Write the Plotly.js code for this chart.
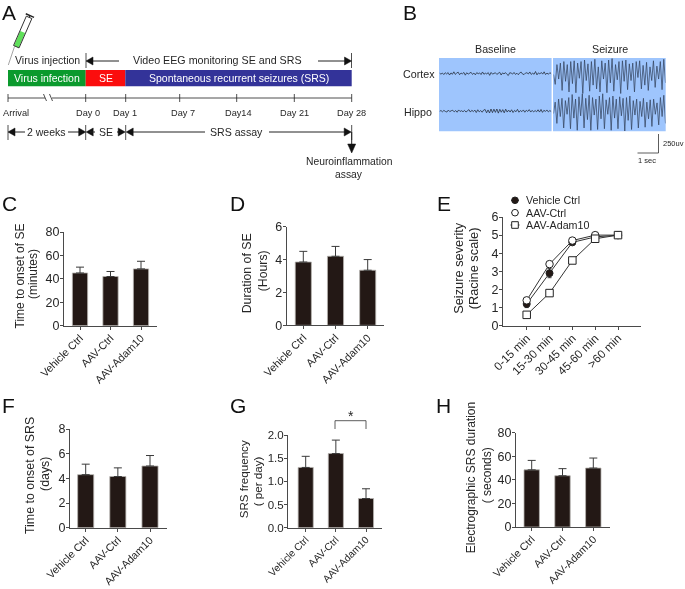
<!DOCTYPE html>
<html><head><meta charset="utf-8">
<script src="https://cdn.plot.ly/plotly-3.0.1.min.js"></script>
<style>html,body{margin:0;padding:0;background:#fff}#c{width:685px;height:589px;filter:blur(0.3px)}</style>
</head><body><div id="c"></div>
<script>
var groups = ['Vehicle Ctrl','AAV-Ctrl','AAV-Adam10'];
var onsetSE = [45,42,48.5],      onsetSEErr = [5,4.3,6.5];
var durationSE = [3.85,4.2,3.35],durationSEErr = [0.65,0.6,0.65];
var onsetSRS = [4.3,4.15,5.0],   onsetSRSErr = [0.85,0.7,0.85];
var freqSRS = [1.3,1.6,0.63],    freqSRSErr = [0.24,0.29,0.21];
var durSRS = [48.5,43.5,50],     durSRSErr = [8,6,8.5];
var timeBins = ['0-15 min','15-30 min','30-45 min','45-60 min','>60 min'];
var sevVehicle = [1.2,2.9,4.6,4.9,5], sevVehicleErr = [0.2,0.25,0.1,0.05,0];
var sevAAV = [1.4,3.4,4.7,5,5],       sevAAVErr = [0.15,0.15,0.1,0.05,0];
var sevAdam = [0.6,1.8,3.6,4.8,5],    sevAdamErr = [0.1,0.1,0.1,0.1,0];
var cortexBaseline = [5,-8,6,-14,10,-6,12,-20,8,-10,22,-12,5,18,-16,6,-4,14,-22,10,-8,4,16,-12,6,-18,12,-4,8,-14,20,-10,4,-6,12,-24,14,-8,6,10,-12,4,16,-20,8,-6,12,-10,-26,10,6,-8,14,-12,4,-16,10,18,-8,-14,6,10,-6,20,-12,4,-10,26,-18,8,-6,14,-8,22,-14,6,-10,12,-6];
var hippoBaseline = [-4,6,-10,8,-6,-14,12,-8,4,10,-12,6,-16,14,-6,4,-10,8,-14,6,18,-14,10,-8,12,-20,16,-12,6,-16,12,20,-24,14,-26,26,-22,24,-18,26,-28,22,-16,18,-24,24,-14,12,-14,16,-20,8,-10,22,-16,6,-8,14,-16,10,-6,18,-14,8,-12,6,-10,16,-14,20,-18,10,-6,14,-12,6,-8];
var cortexSeizure = [20,-110,150,-40,170,-190,190,-70,150,-210,190,-100,200,-220,170,-30,190,-230,210,-60,160,-200,190,-120,220,-170,120,-210,200,-40,170,-220,210,-90,230,-200,150,-50,190,-230,200,-70,210,-180,160,-60,170,-210,190,-20,200,-170,140,-120,180,-190,120,-60,200,-150,130,-40,190,-180,220,-90];
var hippoSeizure = [-20,130,-150,170,-60,180,-210,150,-30,190,-220,230,-80,170,-240,200,-50,240,-210,180,-100,220,-240,190,-40,170,-230,210,-90,240,-220,160,-30,190,-240,210,-80,170,-220,200,-50,180,-250,190,-110,210,-230,150,-40,170,-210,140,-60,180,-200,130,-90,160,-190,170,-30,120,-170,190,-60,220,-150];
var font = 'Liberation Sans, Arial, sans-serif';
var ink = '#262626', axisInk = '#4a4a4a';
var W = 685, H = 589, data = [], shapes = [], annotations = [], layout = {};
function X(p){return p/W;} function Y(p){return 1-p/H;}
layout.xaxis20 = {domain:[0,1], range:[0,W], visible:false, fixedrange:true};
layout.yaxis20 = {domain:[0,1], range:[H,0], visible:false, fixedrange:true};
function line(x0,y0,x1,y1,w,c){shapes.push({type:'line',xref:'x20',yref:'y20',x0:x0,y0:y0,x1:x1,y1:y1,line:{color:c||'#222',width:w||1}});}
function poly(pts,fill,lc,lw){shapes.push({type:'path',xref:'x20',yref:'y20',path:'M'+pts.map(function(p){return p.join(',');}).join('L')+'Z',fillcolor:fill,line:{color:lc||fill,width:lw===undefined?0.5:lw}});}
function rect(x0,y0,x1,y1,fill){shapes.push({type:'rect',xref:'paper',yref:'paper',x0:X(x0),x1:X(x1),y0:Y(y0),y1:Y(y1),fillcolor:fill,line:{width:0},layer:'below'});}
function text(s,x,y,size,opts){opts=opts||{};annotations.push({text:s,xref:'x20',yref:'y20',x:x,y:y,showarrow:false,xanchor:opts.anchor||'center',yanchor:'middle',textangle:opts.angle||0,font:{family:font,size:size,color:opts.color||ink}});}
function headL(x,y){poly([[x,y],[x+7,y-4],[x+7,y+4]],'#111');}
function headR(x,y){poly([[x,y],[x-7,y-4],[x-7,y+4]],'#111');}
function ytitle(s,x,y,size){text(s,x,y,size,{angle:-90});}

// ---------- bar panels
function barPanel(n,vals,errs,ax,right,c0,c2,top,bottom,ymax,dtick,tickSize,xSize,fmt){
  var sp=(c2-c0)/2, xa='xaxis'+n, ya='yaxis'+n;
  data.push({type:'bar',x:groups,y:vals,xaxis:'x'+n,yaxis:'y'+n,showlegend:false,
    marker:{color:'#231815',line:{color:'#b5b2ae',width:0.8}},
    error_y:{type:'data',array:errs,arrayminus:[0,0,0],symmetric:false,color:'#3a3a3a',thickness:1,width:4}});
  layout[xa]={domain:[X(ax),X(right)],range:[(ax-c0)/sp,(right-c0)/sp],anchor:'y'+n,type:'category',showgrid:false,zeroline:false,showline:true,linecolor:axisInk,linewidth:1,ticks:'outside',ticklen:3,tickcolor:axisInk,tickangle:-45,ticklabelstandoff:-2,tickfont:{family:font,size:xSize,color:ink},fixedrange:true};
  layout[ya]={domain:[Y(bottom),Y(top)],range:[0,ymax],anchor:'x'+n,dtick:dtick,tickformat:fmt||'',showgrid:false,zeroline:false,showline:true,linecolor:axisInk,linewidth:1,ticks:'outside',ticklen:3,tickcolor:axisInk,ticklabelstandoff:-2,tickfont:{family:font,size:tickSize,color:ink},fixedrange:true};
}
barPanel(1,onsetSE,onsetSEErr,64,157,80,141,232,325.7,80,20,12.5,10.8);
barPanel(2,durationSE,durationSEErr,286.7,384,303.3,367.7,226.7,325.3,6,2,12.5,10.8);
barPanel(3,onsetSRS,onsetSRSErr,70,166.7,85.7,150,429,527.7,8,2,12.5,10.7);
barPanel(4,freqSRS,freqSRSErr,288,382,305.7,366,435,527.7,2,0.5,11.5,10.2,'.1f');
barPanel(5,durSRS,durSRSErr,516,610,531.7,593.3,432.7,527,80,20,12.5,10.6);
ytitle('Time to onset of SE',19,276.5,12);   ytitle('(minutes)',33,274,12);
ytitle('Duration of SE',247.3,273,12.3);     ytitle('(Hours)',263.3,271,12.3);
ytitle('Time to onset of SRS',30,476,12.4);  ytitle('(days)',45,474,12.4);
ytitle('SRS frequency',243.3,479,11.6);      ytitle('( per day)',257.3,481,11.6);
ytitle('Electrographic SRS duration',470.7,477.5,12); ytitle('( seconds)',487.3,475,12);
ytitle('Seizure severity',458.3,267.5,12.8); ytitle('(Racine scale)',473.3,268,12.8);

// ---------- line panel E
var ex0=503, exr=641, ec0=526.7, ec4=618, esp=(ec4-ec0)/4;
function sevTrace(y,e,sym,fill,size){
  data.push({type:'scatter',mode:'lines+markers',x:timeBins,y:y,xaxis:'x6',yaxis:'y6',showlegend:false,cliponaxis:false,
    line:{color:'#333',width:1},marker:{symbol:sym,size:size,color:fill,line:{color:'#222',width:1}},
    error_y:{type:'data',array:e,color:'#333',thickness:1,width:2}});
}
sevTrace(sevVehicle,sevVehicleErr,'circle','#231815',7);
sevTrace(sevAAV,sevAAVErr,'circle','#fff',7.5);
sevTrace(sevAdam,sevAdamErr,'square','#fff',7.5);
layout.xaxis6={domain:[X(ex0),X(exr)],range:[(ex0-ec0)/esp,(exr-ec0)/esp],anchor:'y6',type:'category',categoryorder:'array',categoryarray:timeBins,showgrid:false,zeroline:false,showline:true,linecolor:axisInk,linewidth:1,ticks:'outside',ticklen:3,tickcolor:axisInk,tickangle:-45,ticklabelstandoff:-3,tickfont:{family:font,size:11.7,color:ink},fixedrange:true};
layout.yaxis6={domain:[Y(325.7),Y(217)],range:[0,6],anchor:'x6',dtick:1,showgrid:false,zeroline:false,showline:true,linecolor:axisInk,linewidth:1,ticks:'outside',ticklen:3,tickcolor:axisInk,ticklabelstandoff:-2,tickfont:{family:font,size:12.5,color:ink},fixedrange:true};
// legend of E
line(511,200.3,519,200.3,1,'#333');
shapes.push({type:'circle',xref:'x20',yref:'y20',x0:511.7,x1:518.3,y0:197,y1:203.6,fillcolor:'#231815',line:{color:'#222',width:1}});
line(511,212.7,519,212.7,1,'#333');
shapes.push({type:'circle',xref:'x20',yref:'y20',x0:511.7,x1:518.3,y0:209.4,y1:216,fillcolor:'#fff',line:{color:'#222',width:1}});
line(510.5,225,519.5,225,1,'#333');
shapes.push({type:'rect',xref:'x20',yref:'y20',x0:511.7,x1:518.3,y0:221.7,y1:228.3,fillcolor:'#fff',line:{color:'#222',width:1}});
text('Vehicle Ctrl',524.3,200.3,10.7,{anchor:'left'});
text('AAV-Ctrl',524.3,212.7,10.7,{anchor:'left'});
text('AAV-Adam10',524.3,225,10.7,{anchor:'left'});

// ---------- EEG panel B
var uvPerPx = 250/19;
function eeg(n,vals,x0,x1,cy,halfPx,c,w){
  var xs=vals.map(function(_,i){return i;});
  data.push({type:'scatter',mode:'lines',x:xs,y:vals,xaxis:'x'+n,yaxis:'y'+n,showlegend:false,hoverinfo:'skip',line:{color:c,width:w,shape:'linear'}});
  layout['xaxis'+n]={domain:[X(x0),X(x1)],range:[0,vals.length-1],visible:false,fixedrange:true,anchor:'y'+n};
  layout['yaxis'+n]={domain:[Y(cy+halfPx),Y(cy-halfPx)],range:[-halfPx*uvPerPx,halfPx*uvPerPx],visible:false,fixedrange:true,anchor:'x'+n};
}
rect(439,58,551.6,131.3,'#9ec5fd');
rect(553,58,665.7,131.3,'#9ec5fd');
eeg(7,cortexBaseline,439.5,551.3,73.5,8,'#26303f',0.8);
eeg(8,hippoBaseline,439.5,551.3,111,8,'#26303f',0.8);
eeg(9,cortexSeizure,553.5,665.5,76,19,'#364660',0.75);
eeg(10,hippoSeizure,553.5,665.5,112,20,'#364660',0.75);
text('Baseline',495,48.5,10.7);
text('Seizure',609.7,48.5,10.7);
text('Cortex',418.5,73.5,10.7);
text('Hippo',418,112,10.7);
line(658.5,134,658.5,153,0.8,'#333');
line(637.5,153,658.5,153,0.8,'#333');
text('250uv',673,143.5,7.5);
text('1 sec',647,160,7.5);

// ---------- diagram A
function bar(x0,x1,c){shapes.push({type:'rect',xref:'x20',yref:'y20',x0:x0,x1:x1,y0:70,y1:86.3,fillcolor:c,line:{width:0}});}
bar(8,85.7,'#0b9a2d'); bar(85.7,125.3,'#fb0d0d'); bar(125.3,351.7,'#333399');
text('Virus injection',47.5,60,10.5);
text('Video EEG monitoring SE and SRS',217.5,60,10.7);
line(86,53,86,68,0.8); line(351.5,53,351.5,68,0.8);
line(88,61,119,61,1); headL(86,61);
line(318,61,349,61,1); headR(351.5,61);
text('Virus infection',47,78,10.5,{color:'#fff'});
text('SE',105.5,78,10.5,{color:'#fff'});
text('Spontaneous recurrent seizures (SRS)',238.5,78,10.5,{color:'#fff'});
// timeline
line(8,98,45,98,0.8); line(52,98,351.7,98,0.8);
line(43.5,94,46.5,101,0.8); line(49.5,94,52.5,101,0.8);
[8,85.7,125.7,179.7,236.7,294.3,351.7].forEach(function(x){line(x,94,x,102,0.8);});
var dayLabels=['Arrival','Day 0','Day 1','Day 7','Day14','Day 21','Day 28'], dayX=[15.5,88,124.7,182.7,238.7,294.3,351.3];
dayLabels.forEach(function(s,i){text(s,dayX[i],113,9.2);});
// assay row
[8,85.7,125.7,351.7].forEach(function(x){line(x,125,x,140,0.8);});
line(10,132,25,132,1); headL(8,132);
line(68,132,84,132,1); headR(85.7,132);
headL(86.2,132); line(90,132,95,132,1);
line(117,132,123,132,1); headR(125.2,132);
line(129,132,205,132,1); headL(126.2,132);
line(269,132,349,132,1); headR(351.2,132);
text('2 weeks',46.7,132,10.5);
text('SE',106,132,10.5);
text('SRS assay',236.7,132,10.6);
line(351.7,132,351.7,146,1);
poly([[351.7,153],[347.7,144],[355.7,144]],'#111');
text('Neuroinflammation',349.3,161,10.3);
text('assay',349.3,174,10.3);
// syringe
function sy(t,s){ return [8.3+t*0.4+s*0.916, 65-t*0.916+s*0.4]; }
line(8.3,65,14.5,46.5,0.6,'#666');
poly([sy(20,-2.6),sy(36,-2.6),sy(36,2.6),sy(20,2.6)],'#5fe05a','#333',0);
poly([sy(20,-3),sy(52,-3),sy(52,3),sy(20,3)],'rgba(0,0,0,0)','#333',1);
line(sy(52,0)[0],sy(52,0)[1],sy(54,0)[0],sy(54,0)[1],1,'#333');
line(sy(54,-4.5)[0],sy(54,-4.5)[1],sy(54,4.5)[0],sy(54,4.5)[1],1.4,'#222');

// ---------- G bracket
line(335,420.7,366,420.7,0.8,'#333'); line(335,420.7,335,429,0.8,'#333'); line(366,420.7,366,429,0.8,'#333');
text('*',350.5,416,14);

// ---------- panel letters
[['A',8.5,12.5],['B',410,12.5],['C',9,203],['D',237.5,203],['E',444,203],['F',8,405],['G',237.5,405],['H',443.5,405]].forEach(function(a){text(a[0],a[1],a[2],21,{color:'#111'});});

Object.assign(layout,{width:W,height:H,margin:{l:0,r:0,t:0,b:0},paper_bgcolor:'#fff',plot_bgcolor:'rgba(0,0,0,0)',bargap:0.5,showlegend:false,autosize:false,shapes:shapes,annotations:annotations,font:{family:font}});
Plotly.newPlot('c',data,layout,{displayModeBar:false,staticPlot:true});
</script></body></html>
